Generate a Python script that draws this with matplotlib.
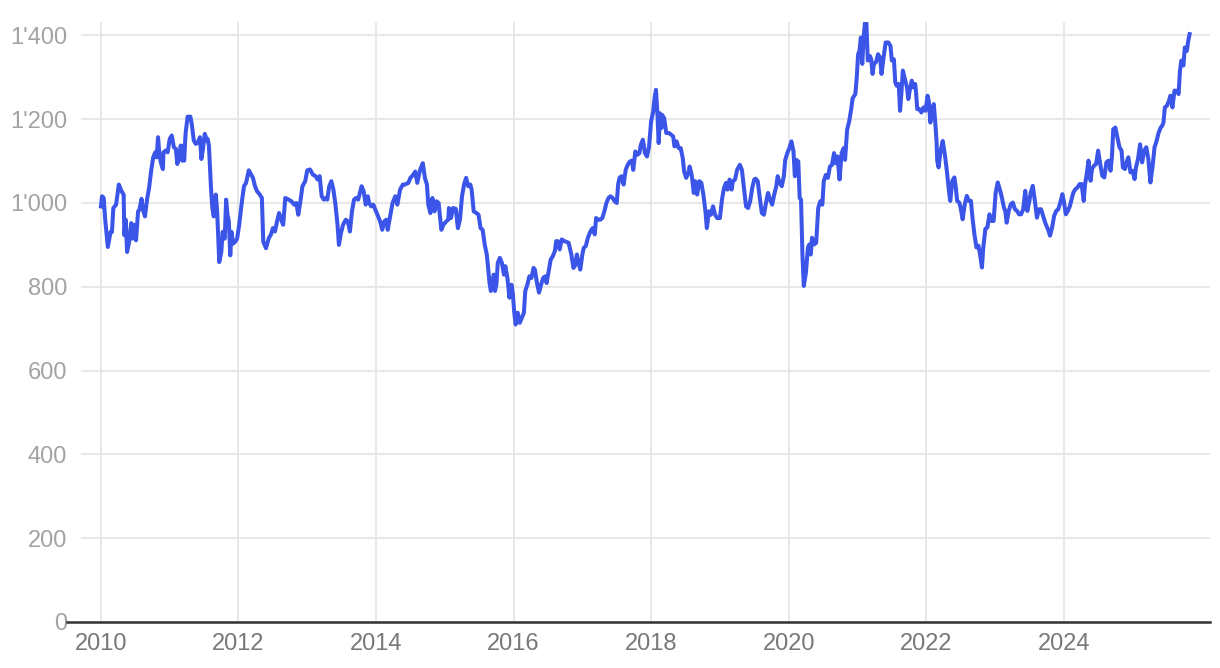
import numpy as np
import matplotlib
matplotlib.use("Agg")
import matplotlib.pyplot as plt

# index level, decimal years
years_10_12 = [2010.00, 2010.015, 2010.04, 2010.06, 2010.10, 2010.14, 2010.16, 2010.18, 2010.22, 2010.26,
               2010.30, 2010.33, 2010.34, 2010.36, 2010.38, 2010.41, 2010.44, 2010.46, 2010.49, 2010.51,
               2010.54, 2010.56, 2010.59, 2010.61, 2010.64, 2010.67, 2010.70, 2010.73, 2010.76, 2010.79,
               2010.81, 2010.83, 2010.85, 2010.87, 2010.90, 2010.91, 2010.94, 2010.97, 2011.00, 2011.03,
               2011.06, 2011.09, 2011.11, 2011.14, 2011.16, 2011.18, 2011.20, 2011.21, 2011.23, 2011.26,
               2011.30, 2011.32, 2011.35, 2011.38, 2011.41, 2011.44, 2011.46, 2011.48, 2011.51, 2011.54,
               2011.55, 2011.57, 2011.60, 2011.62, 2011.64, 2011.67, 2011.69, 2011.72, 2011.75, 2011.77,
               2011.80, 2011.82, 2011.84, 2011.86, 2011.88, 2011.90, 2011.92, 2011.95, 2011.98, 2012.01,
               2012.05, 2012.08, 2012.11, 2012.15]
values_10_12 = [992, 1016, 1012, 964, 895, 931, 931, 988, 996, 1044,
                1028, 1020, 923, 960, 883, 907, 952, 915, 948, 911,
                980, 984, 1010, 984, 968, 1008, 1036, 1077, 1109, 1121,
                1109, 1157, 1117, 1097, 1081, 1121, 1125, 1121, 1153, 1161,
                1133, 1129, 1093, 1113, 1137, 1101, 1137, 1101, 1165, 1206,
                1206, 1189, 1149, 1141, 1145, 1157, 1105, 1125, 1165, 1149,
                1153, 1137, 1036, 988, 968, 1020, 980, 859, 883, 931,
                915, 1008, 972, 956, 875, 931, 903, 907, 915, 948,
                1004, 1040, 1048, 1078]

years_12_14 = [2012.21, 2012.24, 2012.27, 2012.31, 2012.34, 2012.36, 2012.40, 2012.44, 2012.47, 2012.50,
               2012.53, 2012.56, 2012.59, 2012.63, 2012.65, 2012.68, 2012.73, 2012.77, 2012.81, 2012.84,
               2012.87, 2012.90, 2012.93, 2012.97, 2013.00, 2013.04, 2013.08, 2013.12, 2013.15, 2013.18,
               2013.21, 2013.24, 2013.27, 2013.29, 2013.32, 2013.35, 2013.38, 2013.41, 2013.44, 2013.46,
               2013.49, 2013.52, 2013.56, 2013.59, 2013.62, 2013.65, 2013.68, 2013.71, 2013.74, 2013.79,
               2013.82, 2013.85, 2013.88, 2013.90, 2013.93, 2013.96, 2014.00, 2014.03, 2014.06, 2014.09,
               2014.12, 2014.15, 2014.17, 2014.20, 2014.24, 2014.28, 2014.31, 2014.35, 2014.39, 2014.42]
values_12_14 = [1060, 1040, 1028, 1020, 1012, 908, 892, 916, 924, 940,
                932, 956, 976, 956, 948, 1012, 1008, 1004, 996, 1000,
                972, 1004, 1040, 1052, 1078, 1080, 1068, 1064, 1056, 1064,
                1016, 1008, 1012, 1008, 1040, 1052, 1032, 996, 948, 900,
                928, 948, 960, 956, 932, 980, 1008, 1012, 1008, 1040,
                1028, 996, 1016, 1000, 992, 996, 980, 968, 956, 936,
                956, 960, 936, 964, 1000, 1016, 996, 1032, 1044, 1044]

years_14_16 = [2014.47, 2014.50, 2014.54, 2014.57, 2014.60, 2014.64, 2014.68, 2014.71, 2014.74, 2014.76,
               2014.79, 2014.82, 2014.85, 2014.88, 2014.91, 2014.95, 2014.98, 2015.02, 2015.05, 2015.06,
               2015.09, 2015.12, 2015.16, 2015.19, 2015.22, 2015.25, 2015.28, 2015.31, 2015.34, 2015.37,
               2015.39, 2015.42, 2015.46, 2015.49, 2015.52, 2015.55, 2015.58, 2015.61, 2015.63, 2015.65,
               2015.67, 2015.69, 2015.71, 2015.73, 2015.75, 2015.77, 2015.80, 2015.83, 2015.86, 2015.88,
               2015.91, 2015.94, 2015.97, 2015.99, 2016.01, 2016.03, 2016.06, 2016.09, 2016.12, 2016.15,
               2016.17, 2016.20, 2016.23, 2016.26, 2016.29, 2016.31, 2016.34, 2016.37, 2016.40, 2016.43,
               2016.46, 2016.48, 2016.51, 2016.54, 2016.57, 2016.60, 2016.62, 2016.64, 2016.67, 2016.70,
               2016.74]
values_14_16 = [1048, 1060, 1067, 1075, 1048, 1079, 1095, 1060, 1044, 996,
                976, 1012, 980, 1004, 1000, 936, 948, 956, 960, 988,
                964, 988, 986, 940, 960, 1016, 1044, 1060, 1040, 1044,
                1032, 980, 976, 972, 940, 936, 901, 877, 845, 809,
                790, 809, 829, 790, 805, 857, 869, 857, 829, 849,
                821, 774, 805, 782, 738, 710, 738, 714, 726, 738,
                790, 805, 825, 821, 845, 841, 809, 786, 805, 821,
                825, 809, 837, 865, 873, 885, 909, 909, 889, 913,
                909]

years_16_19 = [2016.80, 2016.84, 2016.87, 2016.89, 2016.92, 2016.95, 2016.97, 2017.00, 2017.02, 2017.05,
               2017.08, 2017.12, 2017.15, 2017.18, 2017.20, 2017.23, 2017.26, 2017.29, 2017.32, 2017.35,
               2017.38, 2017.41, 2017.44, 2017.47, 2017.50, 2017.52, 2017.54, 2017.57, 2017.60, 2017.63,
               2017.66, 2017.69, 2017.72, 2017.74, 2017.77, 2017.80, 2017.83, 2017.85, 2017.88, 2017.91,
               2017.94, 2017.97, 2018.00, 2018.03, 2018.05, 2018.07, 2018.09, 2018.11, 2018.13, 2018.15,
               2018.16, 2018.19, 2018.22, 2018.26, 2018.29, 2018.32, 2018.34, 2018.37, 2018.40, 2018.43,
               2018.46, 2018.48, 2018.51, 2018.54, 2018.56, 2018.59, 2018.62, 2018.64, 2018.67, 2018.70,
               2018.73, 2018.76, 2018.79, 2018.81, 2018.84, 2018.87, 2018.90, 2018.93, 2018.96]
values_16_19 = [905, 877, 845, 849, 877, 853, 841, 877, 893, 897,
                917, 933, 940, 925, 964, 960, 960, 964, 980, 1000,
                1012, 1016, 1012, 1004, 1000, 1044, 1060, 1064, 1044, 1079,
                1091, 1099, 1101, 1079, 1123, 1115, 1119, 1139, 1151, 1119,
                1111, 1135, 1195, 1218, 1250, 1270, 1218, 1143, 1214, 1179,
                1210, 1202, 1167, 1167, 1163, 1159, 1135, 1147, 1131, 1131,
                1107, 1075, 1060, 1071, 1087, 1067, 1024, 1052, 1020, 1052,
                1048, 1020, 980, 940, 980, 972, 992, 972, 964]

years_19_21 = [2019.00, 2019.03, 2019.06, 2019.09, 2019.11, 2019.14, 2019.17, 2019.19, 2019.22, 2019.25,
               2019.29, 2019.32, 2019.35, 2019.38, 2019.41, 2019.44, 2019.47, 2019.50, 2019.52, 2019.55,
               2019.58, 2019.61, 2019.64, 2019.67, 2019.70, 2019.73, 2019.76, 2019.79, 2019.82, 2019.84,
               2019.87, 2019.90, 2019.93, 2019.95, 2019.98, 2020.01, 2020.04, 2020.07, 2020.09, 2020.11,
               2020.14, 2020.16, 2020.18, 2020.20, 2020.22, 2020.25, 2020.28, 2020.30, 2020.32, 2020.34,
               2020.37, 2020.40, 2020.43, 2020.46, 2020.49, 2020.51, 2020.54, 2020.57, 2020.60, 2020.63,
               2020.66, 2020.68, 2020.71, 2020.74, 2020.77, 2020.80, 2020.82, 2020.85, 2020.88, 2020.91,
               2020.93, 2020.97]
values_19_21 = [964, 1008, 1036, 1048, 1032, 1056, 1032, 1052, 1056, 1079,
                1091, 1079, 1036, 992, 988, 1004, 1036, 1056, 1058, 1052,
                1012, 976, 972, 1000, 1024, 1008, 996, 1020, 1040, 1064,
                1048, 1040, 1064, 1103, 1119, 1131, 1147, 1123, 1064, 1103,
                1099, 1012, 1008, 877, 802, 833, 893, 901, 877, 917,
                901, 905, 988, 1004, 996, 1052, 1067, 1060, 1087, 1091,
                1119, 1095, 1111, 1056, 1119, 1131, 1103, 1175, 1195, 1225,
                1250, 1260]

years_21_23 = [2020.99, 2021.01, 2021.03, 2021.05, 2021.07, 2021.09, 2021.11, 2021.13, 2021.15, 2021.18,
               2021.20, 2021.22, 2021.24, 2021.27, 2021.30, 2021.33, 2021.35, 2021.38, 2021.41, 2021.45,
               2021.48, 2021.50, 2021.53, 2021.55, 2021.57, 2021.60, 2021.62, 2021.64, 2021.66, 2021.69,
               2021.72, 2021.74, 2021.76, 2021.79, 2021.81, 2021.84, 2021.85, 2021.87, 2021.90, 2021.93,
               2021.96, 2021.99, 2022.02, 2022.04, 2022.06, 2022.09, 2022.11, 2022.13, 2022.15, 2022.16,
               2022.18, 2022.21, 2022.24, 2022.27, 2022.30, 2022.33, 2022.35, 2022.38, 2022.41, 2022.43,
               2022.45, 2022.48, 2022.50, 2022.53, 2022.56, 2022.59, 2022.62, 2022.65, 2022.67, 2022.70,
               2022.73, 2022.76, 2022.79, 2022.81, 2022.83, 2022.86, 2022.89, 2022.92, 2022.95, 2022.98]
values_21_23 = [1300, 1355, 1363, 1395, 1332, 1395, 1431, 1431, 1340, 1351,
                1343, 1308, 1332, 1336, 1355, 1347, 1308, 1347, 1383, 1383,
                1375, 1340, 1343, 1288, 1280, 1284, 1220, 1264, 1316, 1296,
                1276, 1248, 1268, 1292, 1276, 1284, 1268, 1224, 1224, 1216,
                1228, 1220, 1256, 1240, 1192, 1220, 1236, 1196, 1148, 1101,
                1085, 1125, 1148, 1117, 1077, 1029, 1005, 1053, 1061, 1037,
                1005, 1001, 989, 961, 997, 1017, 1005, 1005, 969, 926,
                894, 898, 870, 846, 894, 938, 942, 973, 957, 957]

years_23_25 = [2023.01, 2023.04, 2023.07, 2023.10, 2023.13, 2023.15, 2023.17, 2023.20, 2023.23, 2023.26,
               2023.29, 2023.32, 2023.35, 2023.38, 2023.41, 2023.44, 2023.47, 2023.50, 2023.52, 2023.55,
               2023.58, 2023.61, 2023.64, 2023.67, 2023.70, 2023.73, 2023.76, 2023.78, 2023.80, 2023.83,
               2023.86, 2023.89, 2023.92, 2023.95, 2023.98, 2024.00, 2024.03, 2024.06, 2024.09, 2024.12,
               2024.14, 2024.17, 2024.20, 2024.23, 2024.26, 2024.29, 2024.31, 2024.33, 2024.36, 2024.39,
               2024.41, 2024.44, 2024.47, 2024.50, 2024.53, 2024.56, 2024.59, 2024.62, 2024.65, 2024.68,
               2024.70, 2024.72, 2024.75, 2024.78, 2024.81, 2024.84, 2024.86, 2024.89, 2024.92, 2024.94,
               2024.97, 2025.00, 2025.03, 2025.05, 2025.08, 2025.11, 2025.14, 2025.17, 2025.20, 2025.23,
               2025.26, 2025.29, 2025.32, 2025.35, 2025.38, 2025.41, 2025.43, 2025.45, 2025.47, 2025.50,
               2025.53, 2025.55, 2025.58, 2025.61, 2025.64, 2025.67, 2025.69, 2025.71, 2025.74, 2025.76,
               2025.79, 2025.81, 2025.83]
values_23_25 = [1025, 1049, 1033, 1013, 989, 981, 953, 981, 997, 1001,
                985, 981, 973, 973, 985, 1029, 981, 1005, 1025, 1041,
                1005, 965, 985, 985, 969, 953, 941, 933, 922, 941,
                969, 981, 985, 1001, 1021, 1005, 973, 981, 993, 1013,
                1025, 1033, 1037, 1045, 1045, 1005, 1045, 1065, 1101, 1053,
                1081, 1089, 1093, 1125, 1093, 1065, 1061, 1097, 1101, 1077,
                1109, 1176, 1180, 1157, 1133, 1125, 1085, 1081, 1101, 1109,
                1073, 1077, 1057, 1085, 1105, 1140, 1097, 1125, 1133, 1105,
                1049, 1085, 1133, 1148, 1168, 1180, 1184, 1192, 1228, 1232,
                1244, 1256, 1228, 1268, 1268, 1260, 1316, 1340, 1328, 1371,
                1363, 1387, 1403]

years = np.concatenate([years_10_12, years_12_14, years_14_16, years_16_19,
                        years_19_21, years_21_23, years_23_25])
values = np.concatenate([values_10_12, values_12_14, values_14_16, values_16_19,
                         values_19_21, values_21_23, values_23_25])
assert len(years) == len(values)

y_ticks = [0, 200, 400, 600, 800, 1000, 1200, 1400]
x_ticks = [2010, 2012, 2014, 2016, 2018, 2020, 2022, 2024]

plt.rcParams['font.family'] = ['Liberation Sans', 'DejaVu Sans']

fig = plt.figure(figsize=(12.2, 6.68), dpi=100)
ax = fig.add_axes([0.0664, 0.0689, 0.9256, 0.8982])

ax.plot(years, values, color='#3b55e8', lw=2.9, solid_joinstyle='round', zorder=3)

ax.set_xlim(2009.71, 2026.13)
ax.set_ylim(0, 1432)
ax.set_yticks(y_ticks)
ax.set_yticklabels([f"{v:,}".replace(",", "'") for v in y_ticks])
ax.set_xticks(x_ticks)
ax.set_xticklabels([str(x) for x in x_ticks])

ax.grid(True, color='#e6e6e6', lw=1.3)
ax.set_axisbelow(True)
for s in ax.spines.values():
    s.set_visible(False)
ax.tick_params(axis='both', length=0, labelsize=17)
ax.tick_params(axis='y', pad=10, labelcolor='#a3a3a3')
ax.tick_params(axis='x', pad=8, labelcolor='#787878')

# zero line reaches a bit left of the grid
ax.axhline(0, xmin=-0.0124, xmax=1, color='#333333', lw=1.8, clip_on=False, zorder=4)

fig.savefig('out.png', dpi=100)
